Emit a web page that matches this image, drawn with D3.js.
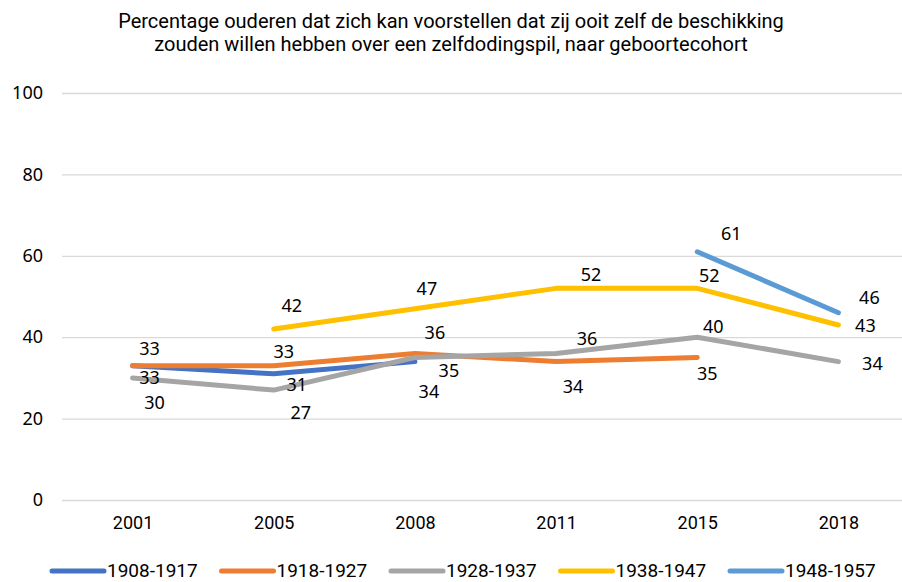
<!DOCTYPE html>
<html>
<head>
<meta charset="utf-8">
<script src="https://cdn.jsdelivr.net/npm/d3@7"></script>
<style>
  body { margin: 0; background: #fff; }
  .narrow { font-family: "Roboto", sans-serif; }
  .wide { font-family: "Noto Sans", "Open Sans", sans-serif; }
</style>
</head>
<body>
<svg id="chart" width="902" height="582"></svg>
<script>
// categories and series
const years = ['2001', '2005', '2008', '2011', '2015', '2018'];
const cohorts = ['1908-1917', '1918-1927', '1928-1937', '1938-1947', '1948-1957'];
const s1908 = [33, 31, 34, null, null, null];
const s1918 = [33, 33, 36, 34, 35, null];
const s1928 = [30, 27, 35, 36, 40, 34];
const s1938 = [null, 42, 47, 52, 52, 43];
const s1948 = [null, null, null, null, 61, 46];
const yTicks = [0, 20, 40, 60, 80, 100];

// layout only: where each data label sits relative to its point (px)
const labelOffsets = [
  [[17, 12], [23, 11], [14, 30]],
  [[17, -17], [10, -14], [20, -21], [17, 25], [10, 16]],
  [[22, 25], [27, 23], [34, 13], [31, -15], [16, -11], [34, 2]],
  [null, [18, -23], [12, -20], [35, -14], [12, -13], [27, 1]],
  [null, null, null, null, [34, -18], [31, -15]]
];
const colors = ['#4472C4', '#ED7D31', '#A5A5A5', '#FFC000', '#5B9BD5'];
const seriesValues = [s1908, s1918, s1928, s1938, s1948];

const svg = d3.select('#chart');
const margin = {left: 62, right: -7, top: 93, bottom: 82};
const W = 902, H = 582;

const x = d3.scalePoint()
    .domain(years)
    .range([margin.left, W - margin.right])
    .padding(0.5);
const y = d3.scaleLinear()
    .domain([0, 100])
    .range([H - margin.bottom, margin.top]);

// title
svg.append('text')
    .attr('class', 'narrow')
    .attr('x', 451)
    .attr('y', 28)
    .attr('text-anchor', 'middle')
    .style('font-size', '20px')
    .attr('fill', '#000')
    .selectAll('tspan')
    .data(['Percentage ouderen dat zich kan voorstellen dat zij ooit zelf de beschikking',
           'zouden willen hebben over een zelfdodingspil, naar geboortecohort'])
    .join('tspan')
    .attr('x', 451)
    .attr('dy', (d, i) => i ? 23 : 0)
    .text(d => d);

// y axis with gridlines
const yAxisG = svg.append('g')
    .attr('transform', `translate(${margin.left},0)`)
    .call(d3.axisLeft(y).tickValues(yTicks).tickSize(-(W - margin.left)).tickPadding(19))
    .call(g => g.select('.domain').remove());
yAxisG.selectAll('.tick line').attr('stroke', '#D9D9D9').attr('stroke-width', 1.3);
yAxisG.selectAll('.tick text')
    .attr('class', 'wide')
    .style('font-size', '18px')
    .attr('fill', '#000');

// x axis labels
const xAxisG = svg.append('g')
    .attr('transform', `translate(0,${y(0)})`)
    .call(d3.axisBottom(x).tickSize(0).tickPadding(16))
    .call(g => g.select('.domain').remove());
xAxisG.selectAll('.tick text')
    .attr('class', 'narrow')
    .style('font-size', '18px')
    .attr('fill', '#000');

// lines
const line = d3.line()
    .defined(d => d.v != null)
    .x(d => x(d.year))
    .y(d => y(d.v));

const series = cohorts.map((c, i) => ({
  name: c,
  color: colors[i],
  points: years.map((yr, j) => ({year: yr, v: seriesValues[i][j], off: labelOffsets[i][j]}))
}));

svg.append('g').selectAll('path')
    .data(series)
    .join('path')
    .attr('d', d => line(d.points))
    .attr('fill', 'none')
    .attr('stroke', d => d.color)
    .attr('stroke-width', 5)
    .attr('stroke-linecap', 'round')
    .attr('stroke-linejoin', 'round');

// data labels
svg.append('g').selectAll('g')
    .data(series)
    .join('g')
    .selectAll('text')
    .data(d => d.points.filter(p => p.v != null))
    .join('text')
    .attr('class', 'wide')
    .attr('x', d => x(d.year) + d.off[0])
    .attr('y', d => y(d.v) + d.off[1])
    .attr('dy', '0.35em')
    .attr('text-anchor', 'middle')
    .style('font-size', '18px')
    .attr('fill', '#000')
    .text(d => d.v);

// legend
const legend = svg.append('g')
    .attr('transform', 'translate(50,570)');
const item = legend.selectAll('g')
    .data(series)
    .join('g')
    .attr('transform', (d, i) => `translate(${i * 169.5},0)`);
item.append('line')
    .attr('x1', 2).attr('x2', 54)
    .attr('y1', 1).attr('y2', 1)
    .attr('stroke', d => d.color)
    .attr('stroke-width', 5)
    .attr('stroke-linecap', 'round');
item.append('text')
    .attr('class', 'narrow')
    .attr('x', 57)
    .attr('dy', '0.35em')
    .style('font-size', '19px')
    .attr('fill', '#000')
    .text(d => d.name);
</script>
</body>
</html>
